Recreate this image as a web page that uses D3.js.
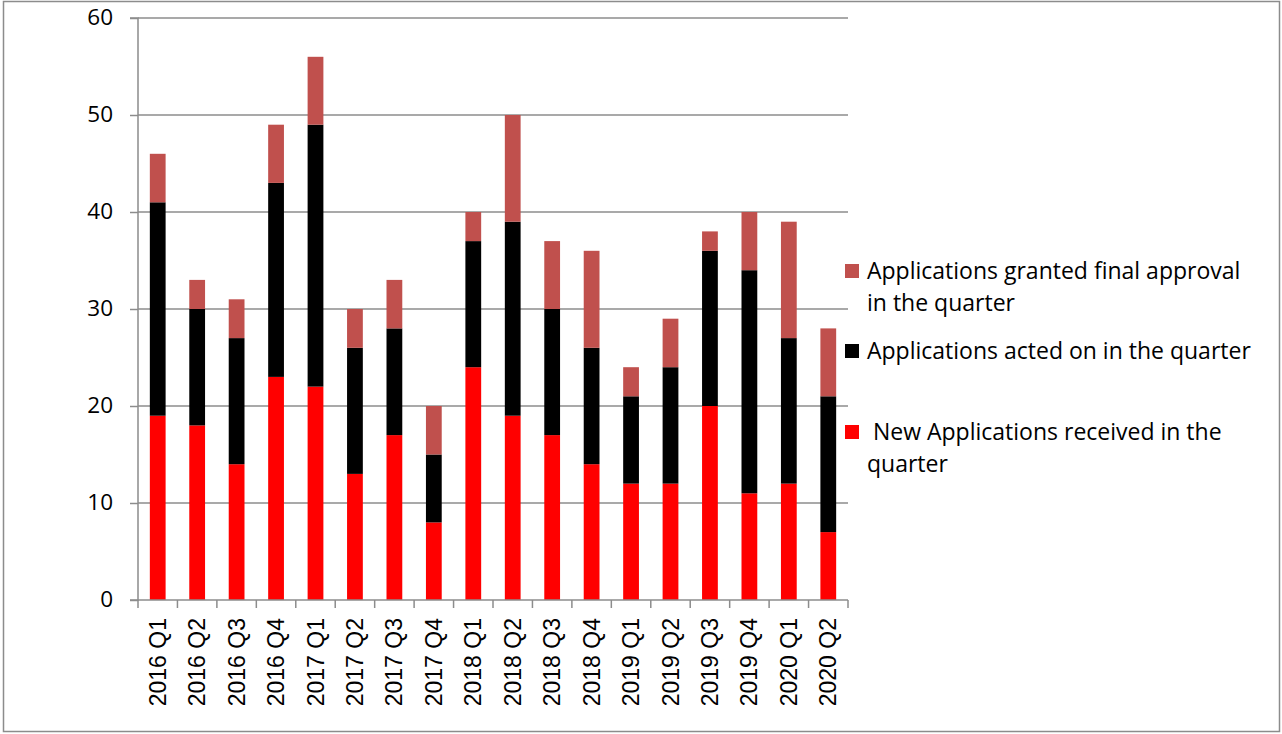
<!DOCTYPE html>
<html>
<head>
<meta charset="utf-8">
<script src="https://cdn.jsdelivr.net/npm/d3@7"></script>
<style>
  body { margin: 0; background: #fff; }
  svg { display: block; font-family: "Open Sans", Lato, sans-serif; }
</style>
</head>
<body>
<script>
const quarters = ['2016 Q1','2016 Q2','2016 Q3','2016 Q4','2017 Q1','2017 Q2','2017 Q3','2017 Q4',
                  '2018 Q1','2018 Q2','2018 Q3','2018 Q4','2019 Q1','2019 Q2','2019 Q3','2019 Q4',
                  '2020 Q1','2020 Q2'];
const received = [19, 18, 14, 23, 22, 13, 17,  8, 24, 19, 17, 14, 12, 12, 20, 11, 12,  7];
const actedOn  = [22, 12, 13, 20, 27, 13, 11,  7, 13, 20, 13, 12,  9, 12, 16, 23, 15, 14];
const granted  = [ 5,  3,  4,  6,  7,  4,  5,  5,  3, 11,  7, 10,  3,  5,  2,  6, 12,  7];
const yTicks   = [0, 10, 20, 30, 40, 50, 60];

const colors = ['#ff0000', '#000000', '#c0504d'];

const width = 1282, height = 734;
const margin = { top: 18, left: 138, right: 434, bottom: 134 };

const svg = d3.select('body').append('svg')
  .attr('width', width)
  .attr('height', height);

// outer chart border
svg.append('rect')
  .attr('x', 3.5).attr('y', 1.5)
  .attr('width', 1276).attr('height', 730)
  .attr('fill', 'none')
  .attr('stroke', '#8c8c8c')
  .attr('stroke-width', 1.5);

const table = quarters.map((q, i) => ({ q, received: received[i], actedOn: actedOn[i], granted: granted[i] }));
const stacked = d3.stack().keys(['received', 'actedOn', 'granted'])(table);

const x = d3.scaleBand()
  .domain(quarters)
  .range([margin.left, width - margin.right])
  .paddingInner(0.6)
  .paddingOuter(0.3);

const y = d3.scaleLinear()
  .domain([0, 60])
  .range([height - margin.bottom, margin.top]);

// gridlines
svg.append('g')
  .selectAll('line')
  .data(yTicks.filter(d => d > 0))
  .join('line')
  .attr('x1', margin.left).attr('x2', width - margin.right)
  .attr('y1', d => y(d)).attr('y2', d => y(d))
  .attr('stroke', '#8c8c8c')
  .attr('stroke-width', 1.5);

// bars
svg.append('g')
  .selectAll('g')
  .data(stacked)
  .join('g')
  .attr('fill', (d, i) => colors[i])
  .selectAll('rect')
  .data(d => d)
  .join('rect')
  .attr('x', d => x(d.data.q))
  .attr('y', d => y(d[1]))
  .attr('width', x.bandwidth())
  .attr('height', d => y(d[0]) - y(d[1]));

// y axis
const yAxis = svg.append('g')
  .attr('transform', `translate(${margin.left},0)`)
  .call(d3.axisLeft(y).tickValues(yTicks).tickSize(8).tickPadding(17));
yAxis.selectAll('path, line').attr('stroke', '#8c8c8c').attr('stroke-width', 1.5);
yAxis.select('.domain').attr('d', `M-8,${y(0)}H0V${y(60)}H-8`);
yAxis.selectAll('text')
  .attr('font-size', 22.5)
  .attr('font-family', '"Open Sans", sans-serif')
  .attr('dy', '0.3em')
  .attr('fill', '#000');

// x axis: tick marks at band boundaries
const xAxisG = svg.append('g');
xAxisG.append('line')
  .attr('x1', margin.left).attr('x2', width - margin.right)
  .attr('y1', y(0)).attr('y2', y(0))
  .attr('stroke', '#8c8c8c').attr('stroke-width', 1.5);
const step = x.step();
xAxisG.selectAll('line.tick')
  .data(d3.range(quarters.length + 1))
  .join('line')
  .attr('class', 'tick')
  .attr('x1', i => margin.left + i * step)
  .attr('x2', i => margin.left + i * step)
  .attr('y1', y(0)).attr('y2', y(0) + 8)
  .attr('stroke', '#8c8c8c').attr('stroke-width', 1.5);
xAxisG.selectAll('text')
  .data(quarters)
  .join('text')
  .attr('transform', d => `translate(${x(d) + x.bandwidth() / 2 + 8},${y(0) + 18}) rotate(-90)`)
  .attr('text-anchor', 'end')
  .attr('font-family', '"Liberation Sans", Arial, sans-serif')
  .attr('font-size', 23)
  .attr('fill', '#000')
  .text(d => d);

// legend
const legendItems = [
  { color: colors[2], lines: ['Applications granted final approval', 'in the quarter'], y: 271 },
  { color: colors[1], lines: ['Applications acted on in the quarter'], y: 351 },
  { color: colors[0], lines: ['\u00a0New Applications received in the', 'quarter'], y: 432 }
];
const legend = svg.append('g');
const li = legend.selectAll('g')
  .data(legendItems)
  .join('g')
  .attr('transform', d => `translate(845,${d.y})`);
li.append('rect')
  .attr('x', 0).attr('y', -7)
  .attr('width', 14).attr('height', 14)
  .attr('fill', d => d.color);
li.append('text')
  .attr('font-size', 23)
  .attr('fill', '#000')
  .selectAll('tspan')
  .data(d => d.lines)
  .join('tspan')
  .attr('x', 22)
  .attr('y', (d, i) => 8 + i * 32)
  .text(d => d);
</script>
</body>
</html>
